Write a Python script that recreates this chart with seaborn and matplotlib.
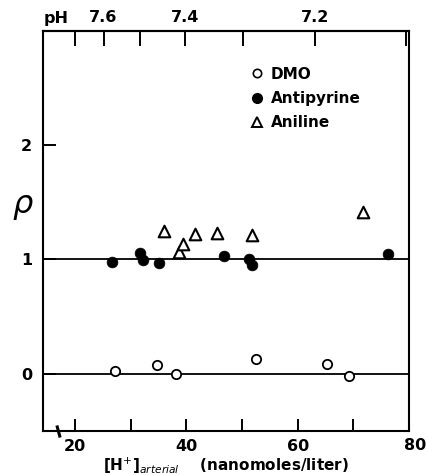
import numpy as np
import pandas as pd
import matplotlib
matplotlib.use("Agg")
import matplotlib.pyplot as plt
import seaborn as sns
from matplotlib.lines import Line2D

sns.set_theme(style="white")
plt.rcParams["font.family"] = ["DejaVu Sans"]
plt.rcParams["text.color"] = "black"
plt.rcParams["xtick.color"] = "black"
plt.rcParams["ytick.color"] = "black"
plt.rcParams["axes.labelcolor"] = "black"

# Arterial hydrogen ion concentration (nmol/L) and ratio rho for each marker
dmo_h = [27.2, 34.7, 38.1, 52.5, 65.2, 69.2]
dmo_rho = [0.02, 0.075, 0.0, 0.126, 0.082, -0.018]

antipyrine_h = [26.7, 31.6, 32.2, 35.0, 46.8, 51.3, 51.7, 76.2]
antipyrine_rho = [0.976, 1.059, 0.991, 0.965, 1.026, 1.006, 0.947, 1.046]

aniline_h = [36.0, 38.7, 39.4, 41.5, 45.5, 51.7, 71.8]
aniline_rho = [1.248, 1.064, 1.138, 1.225, 1.231, 1.217, 1.415]

x_ticks = [20, 30, 40, 50, 60, 70]
x_labels = ["20", "", "40", "", "60", ""]
y_ticks = [0, 1, 2]
y_labels = ["0", "1", "2"]
ph_ticks = [7.7, 7.6, 7.5, 7.4, 7.3, 7.2, 7.1]
ph_labels = ["", "7.6", "", "7.4", "", "7.2", ""]

df = pd.concat([
    pd.DataFrame({"h": dmo_h, "rho": dmo_rho, "drug": "DMO"}),
    pd.DataFrame({"h": antipyrine_h, "rho": antipyrine_rho, "drug": "Antipyrine"}),
    pd.DataFrame({"h": aniline_h, "rho": aniline_rho, "drug": "Aniline"}),
])

fig = plt.figure(figsize=(4.27, 4.75), dpi=100)
ax = fig.add_axes([0.1014, 0.0933, 0.8566, 0.8414])

ink = "black"
ax.axhline(1, color=ink, lw=1.3, zorder=1)
ax.axhline(0, color=ink, lw=1.3, zorder=1)

sns.scatterplot(data=df[df.drug == "DMO"], x="h", y="rho", ax=ax,
                marker="o", s=45, facecolor="white", edgecolor=ink,
                linewidth=1.3, zorder=3, legend=False)
sns.scatterplot(data=df[df.drug == "Antipyrine"], x="h", y="rho", ax=ax,
                marker="o", s=60, color=ink, edgecolor=ink,
                linewidth=0.5, zorder=3, legend=False)
sns.scatterplot(data=df[df.drug == "Aniline"], x="h", y="rho", ax=ax,
                marker="^", s=70, facecolor="white", edgecolor=ink,
                linewidth=1.5, zorder=3, legend=False)

ax.set_xlim(14.3, 80)
ax.set_ylim(-0.5, 3.0)
for sp in ax.spines.values():
    sp.set_color(ink)
    sp.set_linewidth(1.5)

tick_font = dict(fontsize=11.5, fontweight="semibold", color=ink)
ax.set_xticks(x_ticks)
ax.set_xticklabels(x_labels, **tick_font)
ax.set_yticks(y_ticks)
ax.set_yticklabels(y_labels, **tick_font)
ax.tick_params(axis="x", direction="in", length=9, width=1.4, color=ink,
               pad=6, bottom=True)
ax.tick_params(axis="y", direction="in", length=9, width=1.4, color=ink,
               pad=8, left=True)
ax.text(81.0, -0.56, "80", ha="center", va="top", clip_on=False, **tick_font)

# Axis break on the concentration scale
ax.plot([17.0], [-0.5], marker=(2, 0, 15), markersize=9, mew=2.2,
        color=ink, clip_on=False, zorder=5)

ax.set_xlabel("[H$^{+}$]$_{arterial}$    (nanomoles/liter)", fontsize=11,
              fontweight="semibold", labelpad=1, color=ink)
ax.set_ylabel(r"$\rho$", fontsize=23, rotation=0, labelpad=14, va="center",
              color=ink)
ax.yaxis.set_label_coords(-0.055, 0.56)

# pH scale along the top edge
def h_to_ph(h):
    return 9 - np.log10(np.asarray(h, dtype=float))

def ph_to_h(ph):
    return 10 ** (9 - np.asarray(ph, dtype=float))

top = ax.secondary_xaxis("top", functions=(h_to_ph, ph_to_h))
top.set_xticks(ph_ticks)
top.set_xticklabels(ph_labels, **tick_font)
top.tick_params(direction="in", length=11, width=1.4, color=ink, pad=4)
top.spines["top"].set_linewidth(1.5)
ax.text(0.0, 1.012, "pH", transform=ax.transAxes, ha="left", va="bottom",
        fontsize=11.5, fontweight="semibold", color=ink)

handles = [
    Line2D([], [], ls="none", marker="o", ms=6, mfc="white", mec=ink, mew=1.2),
    Line2D([], [], ls="none", marker="o", ms=7, mfc=ink, mec=ink),
    Line2D([], [], ls="none", marker="^", ms=7.5, mfc="white", mec=ink, mew=1.4),
]
leg = ax.legend(handles, ["DMO", "Antipyrine", "Aniline"], loc="upper left",
                bbox_to_anchor=(0.53, 0.945), frameon=False, handlelength=0.8,
                handletextpad=0.5, labelspacing=0.6,
                prop=dict(size=11, weight="bold"))
for t in leg.get_texts():
    t.set_color(ink)

fig.savefig("out.png", dpi=100)
